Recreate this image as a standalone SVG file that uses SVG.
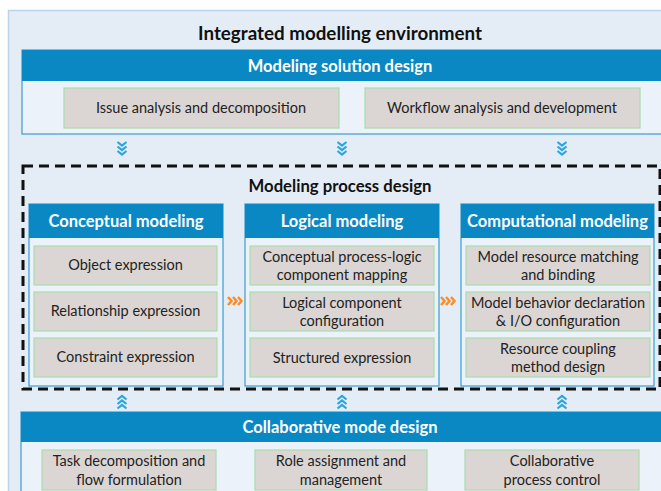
<svg xmlns="http://www.w3.org/2000/svg" width="661" height="491" viewBox="0 0 661 491">
<style>
.bg{fill:#e4edf6;stroke:#b9d4ea;stroke-width:1.5}
.hdr{fill:#0a88c4}
.body{fill:#ebf2f9;stroke:#3b9bd1;stroke-width:1.2}
.box{fill:#dbd6d4;stroke:#a8dcae;stroke-width:1.2}
.t{font-family:Lato,"Open Sans","Liberation Sans",sans-serif;font-size:14.5px;fill:#222;text-anchor:middle}
.h{font-family:Lato,"Open Sans","Liberation Sans",sans-serif;font-size:16.5px;font-weight:bold;fill:#fff;text-anchor:middle}
.title{font-family:Lato,"Open Sans","Liberation Sans",sans-serif;font-size:18.8px;font-weight:bold;fill:#111;text-anchor:middle}
.sub{font-family:Lato,"Open Sans","Liberation Sans",sans-serif;font-size:16.7px;font-weight:bold;fill:#111;text-anchor:middle}
.chev{fill:none;stroke:#2aa5e0;stroke-width:2.2;stroke-linejoin:miter}
.och{fill:none;stroke:#ff8a1f;stroke-width:2.4}
.dash{fill:none;stroke:#111;stroke-width:3;stroke-dasharray:10 6}
</style>
<defs>
<path id="down" class="chev" d="M-4.5,0 L0,3.5 L4.5,0 M-4.5,4.5 L0,8 L4.5,4.5 M-4.5,9 L0,12.5 L4.5,9"/>
<path id="up" class="chev" d="M-4.5,3.5 L0,0 L4.5,3.5 M-4.5,8 L0,4.5 L4.5,8 M-4.5,12.5 L0,9 L4.5,12.5"/>
<path id="right" class="och" d="M0,-4 L3.5,0 L0,4 M5,-4 L8.5,0 L5,4 M10,-4 L13.5,0 L10,4"/>
</defs>
<rect class="bg" x="8.5" y="10.5" width="665" height="495"/>
<text class="title" x="340" y="40">Integrated modelling environment</text>

<g id="solution">
<rect class="body" x="22" y="50" width="660" height="84"/>
<rect class="hdr" x="22" y="50" width="660" height="31"/>
<text class="h" x="340" y="72">Modeling solution design</text>
<rect class="box" x="64" y="88" width="275" height="40"/>
<text class="t" x="201" y="113">Issue analysis and decomposition</text>
<rect class="box" x="365" y="88" width="275" height="40"/>
<text class="t" x="502" y="113">Workflow analysis and development</text>
</g>

<g id="process">
<rect class="dash" x="23" y="166" width="637" height="223"/>
<text class="sub" x="340" y="192">Modeling process design</text>
</g>

<g id="conceptual">
<rect class="body" x="29" y="204" width="194" height="182"/>
<rect class="hdr" x="29" y="204" width="194" height="34"/>
<text class="h" x="126" y="227">Conceptual modeling</text>
<rect class="box" x="34" y="246" width="183" height="39"/>
<text class="t" x="125.5" y="270">Object expression</text>
<rect class="box" x="34" y="292" width="183" height="39"/>
<text class="t" x="125.5" y="316">Relationship expression</text>
<rect class="box" x="34" y="338" width="183" height="39"/>
<text class="t" x="125.5" y="362">Constraint expression</text>
</g>

<g id="logical">
<rect class="body" x="245" y="204" width="194" height="182"/>
<rect class="hdr" x="245" y="204" width="194" height="34"/>
<text class="h" x="342" y="227">Logical modeling</text>
<rect class="box" x="250" y="246" width="184" height="39"/>
<text class="t" x="342" y="262">Conceptual process-logic</text>
<text class="t" x="342" y="280">component mapping</text>
<rect class="box" x="250" y="292" width="184" height="39"/>
<text class="t" x="342" y="308">Logical component</text>
<text class="t" x="342" y="326">configuration</text>
<rect class="box" x="250" y="338" width="184" height="39"/>
<text class="t" x="342" y="363">Structured expression</text>
</g>

<g id="computational">
<rect class="body" x="461" y="204" width="193" height="182"/>
<rect class="hdr" x="461" y="204" width="193" height="34"/>
<text class="h" x="557.5" y="227">Computational modeling</text>
<rect class="box" x="466" y="246" width="184" height="39"/>
<text class="t" x="558" y="262">Model resource matching</text>
<text class="t" x="558" y="280">and binding</text>
<rect class="box" x="466" y="292" width="184" height="39"/>
<text class="t" x="558" y="308">Model behavior declaration</text>
<text class="t" x="558" y="326">&amp; I/O configuration</text>
<rect class="box" x="466" y="338" width="184" height="39"/>
<text class="t" x="558" y="354">Resource coupling</text>
<text class="t" x="558" y="372">method design</text>
</g>

<g id="collaborative">
<rect class="body" x="21" y="412" width="660" height="100"/>
<rect class="hdr" x="21" y="412" width="660" height="30"/>
<text class="h" x="340" y="433">Collaborative mode design</text>
<rect class="box" x="42" y="450" width="174" height="40"/>
<text class="t" x="129" y="466">Task decomposition and</text>
<text class="t" x="129" y="485">flow formulation</text>
<rect class="box" x="255" y="450" width="172" height="40"/>
<text class="t" x="341" y="466">Role assignment and</text>
<text class="t" x="341" y="485">management</text>
<rect class="box" x="465" y="450" width="174" height="40"/>
<text class="t" x="552" y="466">Collaborative</text>
<text class="t" x="552" y="485">process control</text>
</g>

<g id="connectors">
<use href="#down" x="122" y="142"/>
<use href="#down" x="342" y="142"/>
<use href="#down" x="562" y="142"/>
<use href="#right" x="228" y="301"/>
<use href="#right" x="441" y="301"/>
<use href="#up" x="122" y="396"/>
<use href="#up" x="342" y="396"/>
<use href="#up" x="562" y="396"/>
</g>
</svg>
